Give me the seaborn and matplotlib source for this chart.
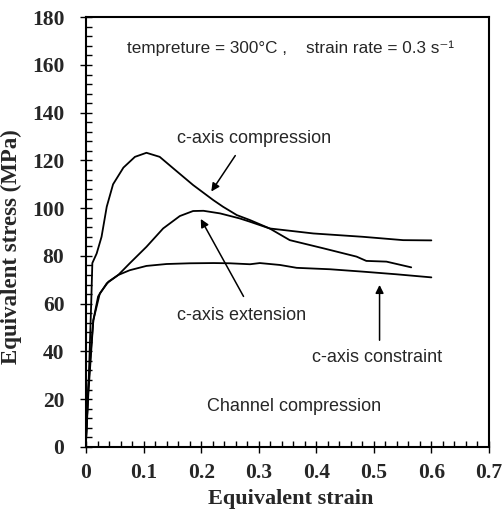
import matplotlib
matplotlib.use("Agg")
import matplotlib.pyplot as plt
import seaborn as sns
import pandas as pd
from matplotlib.ticker import MultipleLocator

# curves (strain, stress in MPa)
comp_strain = [0.0, 0.005, 0.009, 0.011, 0.0185, 0.027, 0.036, 0.047, 0.065, 0.085, 0.105,
               0.128, 0.152, 0.186, 0.221, 0.238, 0.262, 0.285, 0.319, 0.395, 0.481,
               0.551, 0.600]
comp_stress = [3, 30, 60, 77, 81, 88, 100.6, 110, 117, 121.5, 123.2,
               121.5, 116.6, 109.7, 103.4, 100.6, 97.1, 95, 91.5, 89.4, 88,
               86.6, 86.5]

ext_strain = [0.0, 0.004, 0.009, 0.0127, 0.021, 0.036, 0.056, 0.076, 0.105, 0.134, 0.163,
              0.186, 0.204, 0.233, 0.267, 0.285, 0.319, 0.354, 0.412, 0.470, 0.487,
              0.522, 0.565]
ext_stress = [3, 25, 42, 53, 63, 68.5, 72, 76.9, 83.8, 91.5, 96.7,
              98.8, 98.9, 97.8, 95.7, 94.3, 91.5, 86.6, 83.2, 79.7, 77.9,
              77.6, 75.2]

cons_strain = [0.0, 0.004, 0.009, 0.0127, 0.024, 0.039, 0.056, 0.076, 0.105, 0.140, 0.180,
               0.222, 0.250, 0.285, 0.302, 0.337, 0.366, 0.424, 0.481, 0.539, 0.600]
cons_stress = [2, 22, 40, 53, 64.3, 69.2, 72, 74, 75.8, 76.6, 76.9,
               77, 76.9, 76.5, 77, 76.2, 75, 74.4, 73.4, 72.3, 71]

series_names = ["c-axis compression", "c-axis extension", "c-axis constraint"]

df = pd.concat([
    pd.DataFrame({"strain": comp_strain, "stress": comp_stress, "curve": series_names[0]}),
    pd.DataFrame({"strain": ext_strain, "stress": ext_stress, "curve": series_names[1]}),
    pd.DataFrame({"strain": cons_strain, "stress": cons_stress, "curve": series_names[2]}),
])

sns.set_style("ticks")
fig = plt.figure(figsize=(5.03, 5.22), dpi=100)
ax = fig.add_axes([0.171, 0.144, 0.801, 0.823])

sns.lineplot(data=df, x="strain", y="stress", hue="curve", sort=False,
             palette=["black"] * 3, linewidth=1.3, legend=False, ax=ax)

ax.set_xticks([0, 0.1, 0.2, 0.3, 0.4, 0.5, 0.6, 0.7])
ax.set_xticklabels(["0", "0.1", "0.2", "0.3", "0.4", "0.5", "0.6", "0.7"])
ax.xaxis.set_minor_locator(MultipleLocator(0.02))
ax.yaxis.set_major_locator(MultipleLocator(20))
ax.yaxis.set_minor_locator(MultipleLocator(4))
ax.set_xlim(0, 0.7)
ax.set_ylim(0, 180)
ax.tick_params(which="both", color="black", width=1.0)
ax.tick_params(which="major", direction="inout", length=9, labelsize=15.5, pad=11)
ax.tick_params(axis="x", which="major", pad=7)
ax.tick_params(which="minor", direction="in", length=4)
for lab in ax.get_xticklabels() + ax.get_yticklabels():
    lab.set_family("Liberation Serif")
    lab.set_fontweight("bold")
for sp in ax.spines.values():
    sp.set_visible(True)
    sp.set_color("black")
    sp.set_linewidth(1.5)

ax.set_xlabel("Equivalent strain", family="Liberation Serif", fontweight="bold",
              fontsize=16)
ax.set_ylabel("Equivalent stress (MPa)", family="Liberation Serif", fontweight="bold",
              fontsize=16.5)
ax.xaxis.set_label_coords(0.509, -0.097)
ax.yaxis.set_label_coords(-0.159, 0.467)

sans = ["Liberation Sans", "DejaVu Sans"]
ax.text(0.071, 167, "tempreture = 300\u00b0C ,    strain rate = 0.3 s\u207b\u00b9",
        family=sans, fontsize=12.3, va="center")
ax.text(0.158, 129, "c-axis compression", family=sans, fontsize=13, va="center")
ax.text(0.158, 55, "c-axis extension", family=sans, fontsize=13, va="center")
ax.text(0.392, 37.5, "c-axis constraint", family=sans, fontsize=13, va="center")
ax.text(0.21, 17, "Channel compression", family=sans, fontsize=13, va="center")

arrow = dict(arrowstyle="-|>", color="black", lw=1.1, mutation_scale=12)
ax.annotate("", xy=(0.215, 106), xytext=(0.262, 123), arrowprops=arrow)
ax.annotate("", xy=(0.197, 96.5), xytext=(0.276, 62), arrowprops=arrow)
ax.annotate("", xy=(0.51, 69), xytext=(0.51, 43.5), arrowprops=arrow)

fig.savefig("out.png", dpi=100)
